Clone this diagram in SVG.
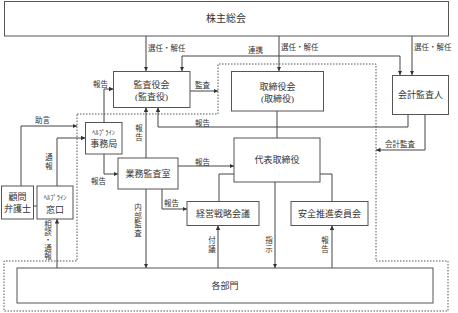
<svg xmlns="http://www.w3.org/2000/svg" width="458" height="313" viewBox="0 0 458 313">
<style>
text{font-family:"Liberation Serif","Noto Sans CJK JP",serif;fill:#333}
.box{fill:#fff;stroke:#555;stroke-width:1}
.t{font-size:9px;text-anchor:middle}
.tl{font-size:10px;text-anchor:middle}
.s{font-size:6.5px;text-anchor:middle}
.lb{font-size:7.5px}
.v{font-size:7.5px;text-anchor:middle}
.c{fill:none;stroke:#444;stroke-width:1}
.ar{marker-end:url(#a)}
.dot{fill:none;stroke:#555;stroke-width:1;stroke-dasharray:1.5 1.5}
</style>
<defs>
<marker id="a" viewBox="0 0 6 6" refX="6" refY="3" markerWidth="4.5" markerHeight="4.5" markerUnits="userSpaceOnUse" orient="auto-start-reverse">
<path d="M0,0 L6,3 L0,6 z" fill="#333"/>
</marker>
</defs>
<rect width="458" height="313" fill="#fff"/>
<path class="dot" d="M77,114 H218 V64 H376 V261 H448 V311 H4 V261 H77 Z"/>
<g id="connectors">
<path class="c ar" d="M146,36 V71"/>
<path class="c ar" d="M279,36 V71"/>
<path class="c ar" d="M412,36 V75"/>
<path class="c ar" d="M182,71 V56 H400 V75" marker-start="url(#a)"/>
<path class="c ar" d="M190,91 H218"/>
<path class="c ar" d="M408,114.5 V127 H158 V107.5"/>
<path class="c" d="M277,111 V138"/>
<path class="c ar" d="M425,114.5 V150 H376"/>
<path class="c ar" d="M146,158 V107.5"/>
<path class="c ar" d="M178,166 H234"/>
<path class="c ar" d="M104,122.5 V89 H113.5"/>
<path class="c ar" d="M104,154 V174 H118"/>
<path class="c ar" d="M162,189 V209 H187"/>
<path class="c ar" d="M146,189 V268"/>
<path class="c" d="M234,174 H219 V201.5"/>
<path class="c" d="M320,174 H332 V201.5"/>
<path class="c ar" d="M275,182 V268"/>
<path class="c ar" d="M332,268 V225.5"/>
<path class="c ar" d="M218,268 V225.5"/>
<path class="c ar" d="M21,186 V126 H77"/>
<path class="c ar" d="M57,186 V138 H85.5"/>
<path class="c ar" d="M57,268 V219"/>
<path class="c" d="M33.5,206 H37"/>
</g>
<g id="labels">
<text class="lb" x="148" y="51">選任・解任</text>
<text class="lb" x="281" y="50">選任・解任</text>
<text class="lb" x="414" y="50">選任・解任</text>
<text class="lb" x="248" y="53">連携</text>
<text class="lb" x="93" y="87">報告</text>
<text class="lb" x="195" y="88">監査</text>
<text class="lb" x="195" y="125.5">報告</text>
<text class="v" x="139"><tspan x="139" y="131">報</tspan><tspan x="139" y="140">告</tspan></text>
<text class="lb" x="195" y="165">報告</text>
<text class="lb" x="91" y="184">報告</text>
<text class="lb" x="164" y="206">報告</text>
<text class="v"><tspan x="138" y="210">内</tspan><tspan x="138" y="218.5">部</tspan><tspan x="138" y="227">監</tspan><tspan x="138" y="235.5">査</tspan></text>
<text class="v"><tspan x="212" y="243">付</tspan><tspan x="212" y="252">議</tspan></text>
<text class="v"><tspan x="269" y="243">指</tspan><tspan x="269" y="252">示</tspan></text>
<text class="v"><tspan x="325" y="243">報</tspan><tspan x="325" y="252">告</tspan></text>
<text class="lb" x="35" y="123">助言</text>
<text class="v"><tspan x="49" y="160">通</tspan><tspan x="49" y="168.5">報</tspan></text>
<text class="v"><tspan x="48" y="227">相</tspan><tspan x="48" y="235">談</tspan><tspan x="48" y="243">・</tspan><tspan x="48" y="251">通</tspan><tspan x="48" y="259">報</tspan></text>
<text class="lb" x="385" y="147">会計監査</text>
</g>
<g id="n-kabunushi"><rect class="box" x="4.5" y="1.5" width="444" height="34.5"/><text class="tl" x="226" y="21.5">株主総会</text></g>
<g id="n-kansayakukai"><rect class="box" x="113.5" y="71.5" width="76.5" height="36"/><text class="t" x="151.5" y="88">監査役会</text><text class="t" x="151.5" y="99.5">(監査役)</text></g>
<g id="n-torishimariyakukai"><rect class="box" x="231.5" y="71.5" width="92" height="39.5"/><text class="t" x="277.5" y="90">取締役会</text><text class="t" x="277.5" y="101.5">(取締役)</text></g>
<g id="n-kaikeikansanin"><rect class="box" x="392.5" y="75.5" width="56" height="39"/><text class="t" x="420.5" y="98">会計監査人</text></g>
<g id="n-helpline-jimukyoku"><rect class="box" x="85.5" y="122.5" width="36.5" height="31.5"/><text class="s" x="103.7" y="135">ﾍﾙﾌﾟﾗｲﾝ</text><text class="t" x="103.7" y="147">事務局</text></g>
<g id="n-gyomukansashitsu"><rect class="box" x="118" y="158" width="60" height="31"/><text class="t" x="148" y="177">業務監査室</text></g>
<g id="n-daihyo"><rect class="box" x="234" y="138" width="86" height="44"/><text class="t" x="277" y="163">代表取締役</text></g>
<g id="n-keiei"><rect class="box" x="187" y="201.5" width="72" height="24"/><text class="t" x="223" y="216.5">経営戦略会議</text></g>
<g id="n-anzen"><rect class="box" x="291" y="201.5" width="77" height="24"/><text class="t" x="329.5" y="216.5">安全推進委員会</text></g>
<g id="n-komon"><rect class="box" x="1.5" y="186" width="32" height="33"/><text class="t" x="17.5" y="200">顧問</text><text class="t" x="17.5" y="212">弁護士</text></g>
<g id="n-helpline-madoguchi"><rect class="box" x="37" y="186" width="36" height="33"/><text class="s" x="55" y="200">ﾍﾙﾌﾟﾗｲﾝ</text><text class="t" x="55" y="213">窓口</text></g>
<g id="n-kakubumon"><rect class="box" x="17" y="268" width="416" height="35"/><text class="t" x="225" y="289">各部門</text></g>
</svg>
